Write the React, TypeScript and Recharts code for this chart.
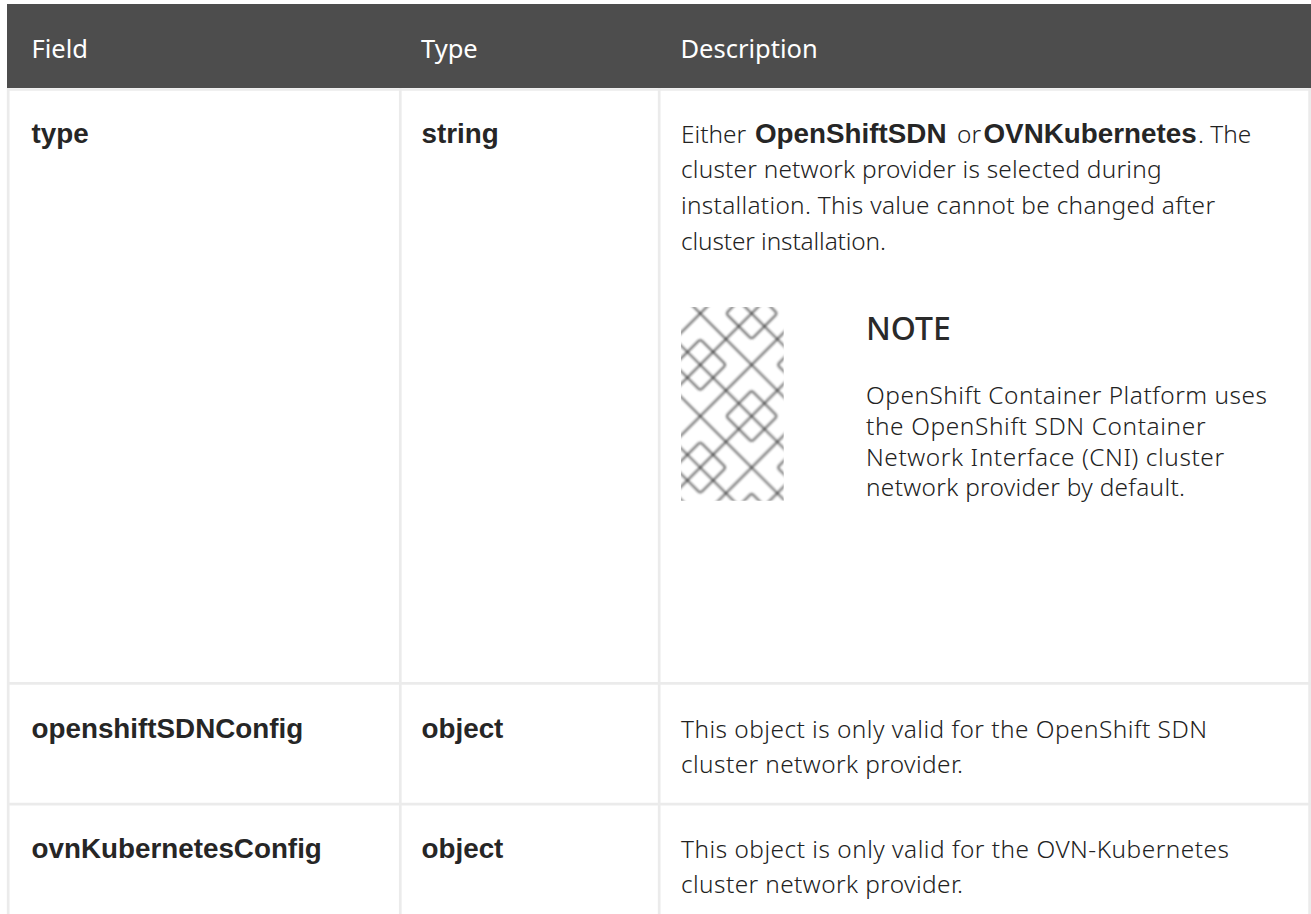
import React from "react";
import { ComposedChart, XAxis, YAxis, ReferenceArea, ReferenceLine, Scatter } from "recharts";

const WIDTH = 1311;
const HEIGHT = 914;

const headers = ["Field", "Type", "Description"];
const fields = ["type", "openshiftSDNConfig", "ovnKubernetesConfig"];
const types = ["string", "object", "object"];
const descriptionLines = [
  ["", "cluster network provider is selected during", "installation. This value cannot be changed after", "cluster installation."],
  ["This object is only valid for the OpenShift SDN", "cluster network provider."],
  ["This object is only valid for the OVN-Kubernetes", "cluster network provider."],
];
const descriptionWidths = [
  [0, 480.5, 534, 205],
  [526, 282],
  [548, 282],
];
const firstLineParts = [
  { text: "Either", bold: false, x: 681 },
  { text: "OpenShiftSDN", bold: true, x: 755 },
  { text: "or", bold: false, x: 957 },
  { text: "OVNKubernetes", bold: true, x: 983.5 },
  { text: ". The", bold: false, x: 1198 },
];
const noteTitle = "NOTE";
const noteLines = ["OpenShift Container Platform uses", "the OpenShift SDN Container", "Network Interface (CNI) cluster", "network provider by default."];
const noteWidths = [401, 339.5, 358, 319];

const columnEdges = [8.2, 400.3, 659.2, 1309.6];
const rowEdges = [89.5, 683.3, 804.2];
const headerBand = [4, 88];
const columnTextX = [31.5, 421.5, 681];
const rowBaselines = [142.7, 737.7, 857.7];
const patternBox = { x1: 681, x2: 783.7, y1: 307, y2: 500.7 };

const BOLD = "'Liberation Sans', Arial, sans-serif";
const BODY = "'Noto Sans', 'Open Sans', sans-serif";

type Cell = { x: number; y: number; text: string; kind: string; width?: number };

const cells: Cell[] = [];
headers.forEach((h, i) => cells.push({ x: columnTextX[i] - (i === 0 ? 0 : 0.5), y: 57.5, text: h, kind: "head" }));
fields.forEach((f, i) => {
  cells.push({ x: columnTextX[0], y: rowBaselines[i], text: f, kind: "bold" });
  cells.push({ x: columnTextX[1], y: rowBaselines[i], text: types[i], kind: "bold" });
  descriptionLines[i].forEach((line, j) => {
    if (line) cells.push({ x: columnTextX[2], y: rowBaselines[i] + j * 35.7, text: line, kind: "body", width: descriptionWidths[i][j] });
  });
});
cells.push({ x: 866, y: 340, text: noteTitle, kind: "note" });
noteLines.forEach((line, j) => cells.push({ x: 866, y: 404.3 + j * 30.6, text: line, kind: "body", width: noteWidths[j] }));
firstLineParts.forEach((p) => cells.push({ x: p.x, y: rowBaselines[0], text: p.text, kind: p.bold ? "bold" : "body" }));

const styles: Record<string, React.SVGProps<SVGTextElement>> = {
  head: { fontFamily: BODY, fontSize: 25.5, fill: "#ffffff" },
  bold: { fontFamily: BOLD, fontSize: 27.8, fontWeight: 700, fill: "#262626" },
  body: { fontFamily: BODY, fontSize: 24.4, fontWeight: 300, fill: "#222222" },
  note: { fontFamily: BODY, fontSize: 32, fontWeight: 500, fill: "#2a2a2a" },
};

const TextMark = (props: any) => {
  const { cx, cy, payload } = props;
  const fit = payload.width ? { textLength: payload.width, lengthAdjust: "spacing" as const } : {};
  return (
    <text x={cx} y={cy} {...styles[payload.kind]} {...fit}>
      {payload.text}
    </text>
  );
};

// The background motif, in lattice units: one tile is 8 units square.
const TILE = 8;
const UNIT = 12.84;
const risingDiagonals = [1, 5];
const fallingDiagonals = [6, 10];
const loopA = [[3.5, 0.5], [5.5, 2.5], [7.5, 0.5], [5.5, -1.5]];
const loopB = [[1.5, 2.5], [3.5, 4.5], [1.5, 6.5], [-0.5, 4.5]];
const offsets = [-TILE, 0, TILE];

const roundedLoop = (pts: number[][], r = 0.22) => {
  const n = pts.length;
  let d = "";
  pts.forEach((p, i) => {
    const prev = pts[(i + n - 1) % n];
    const next = pts[(i + 1) % n];
    const lerp = (a: number[], b: number[], t: number) => [a[0] + (b[0] - a[0]) * t, a[1] + (b[1] - a[1]) * t];
    const len = Math.hypot(prev[0] - p[0], prev[1] - p[1]);
    const a = lerp(p, prev, r / len);
    const b = lerp(p, next, r / len);
    d += `${i === 0 ? "M" : "L"}${a[0]} ${a[1]}Q${p[0]} ${p[1]} ${b[0]} ${b[1]}`;
  });
  return d + "Z";
};

const tilePaths: string[] = [];
offsets.forEach((o) => {
  risingDiagonals.forEach((c) => tilePaths.push(`M${c + o - 4} -4L${c + o + 12} 12`));
  fallingDiagonals.forEach((c) => tilePaths.push(`M${c + o + 4} -4L${c + o - 12} 12`));
  offsets.forEach((p) => {
    [loopA, loopB].forEach((loop) => tilePaths.push(roundedLoop(loop.map(([a, b]) => [a + o, b + p]))));
  });
});

export default function App() {
  return (
    <div style={{ position: "absolute", left: 0, top: 0, width: WIDTH, height: HEIGHT, background: "#fff" }}>
      <ComposedChart width={WIDTH} height={HEIGHT} margin={{ top: 0, right: 0, bottom: 0, left: 0 }} data={cells}>
        <defs>
          <filter id="soft" filterUnits="userSpaceOnUse" x="-2" y="-2" width="12" height="12">
            <feGaussianBlur stdDeviation="0.07" />
          </filter>
          <pattern id="motif" patternUnits="userSpaceOnUse" x={patternBox.x1} y={patternBox.y1} width={TILE * UNIT} height={TILE * UNIT}>
            <g transform={`scale(${UNIT})`} filter="url(#soft)">
              {tilePaths.map((d, i) => (
                <path key={i} d={d} fill="none" stroke="#333333" strokeOpacity={0.72} strokeWidth={0.16} />
              ))}
            </g>
          </pattern>
        </defs>
        <XAxis type="number" dataKey="x" domain={[0, WIDTH]} hide allowDataOverflow />
        <YAxis type="number" dataKey="y" domain={[0, HEIGHT]} reversed hide allowDataOverflow />
        <ReferenceArea x1={columnEdges[0] - 1.2} x2={WIDTH} y1={headerBand[0]} y2={headerBand[1]} fill="#4d4d4d" fillOpacity={1} stroke="none" />
        {columnEdges.map((x, i) => (
          <ReferenceLine key={"c" + i} segment={[{ x, y: headerBand[1] }, { x, y: HEIGHT }]} stroke="#ebebeb" strokeWidth={2.7} />
        ))}
        {rowEdges.map((y, i) => (
          <ReferenceLine key={"r" + i} segment={[{ x: columnEdges[0] - 1.2, y }, { x: WIDTH, y }]} stroke="#ebebeb" strokeWidth={2.7} />
        ))}
        <ReferenceArea x1={patternBox.x1} x2={patternBox.x2} y1={patternBox.y1} y2={patternBox.y2} fill="url(#motif)" fillOpacity={1} stroke="none" />
        <Scatter data={cells} dataKey="y" isAnimationActive={false} shape={TextMark} />
      </ComposedChart>
    </div>
  );
}
